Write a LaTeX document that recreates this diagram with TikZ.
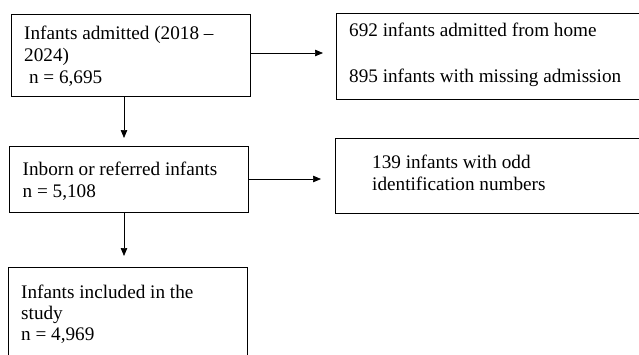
\documentclass[tikz,border=0pt]{standalone}
\usepackage{fontspec}
\setmainfont{Liberation Serif}
\usetikzlibrary{arrows.meta}
\begin{document}
\begin{tikzpicture}[x=1pt,y=-1pt,
  box/.style={draw, line width=1.1pt, inner sep=0pt, anchor=north west},
  lbl/.style={anchor=base west, inner sep=0pt, font=\fontsize{19.2}{22}\selectfont},
  arr/.style={line width=0.7pt, -{Triangle[length=8pt,width=6.5pt]}}]
\useasboundingbox (0,0) rectangle (639,354);
\clip (0,0) rectangle (639,354);
% boxes
\node[box, minimum width=239pt, minimum height=82.5pt] (b1) at (11,13.5) {};
\node[box, minimum width=239pt, minimum height=66pt] (b2) at (9,146) {};
\node[box, minimum width=239pt, minimum height=120pt] (b3) at (8,267) {};
\node[box, minimum width=380pt, minimum height=85.5pt] (r1) at (336,13) {};
\node[box, minimum width=380pt, minimum height=75pt] (r2) at (335,137.5) {};
% texts
\node[lbl] (t1a) at (24,39) {Infants admitted (2018 --};
\node[lbl] (t1b) at (24,61) {2024)};
\node[lbl] (t1c) at (24,83) {\ n = 6,695};
\node[lbl] (t2a) at (22.5,175) {Inborn or referred infants};
\node[lbl] (t2b) at (22.5,197) {n = 5,108};
\node[lbl] (t3a) at (21,298) {Infants included in the};
\node[lbl] (t3b) at (21,319) {study};
\node[lbl] (t3c) at (21,340) {n = 4,969};
\node[lbl] (r1a) at (349,36) {692 infants admitted from home};
\node[lbl] (r1b) at (349,82) {895 infants with missing admission};
\node[lbl] (r2a) at (372,168) {139 infants with odd};
\node[lbl] (r2b) at (372,190) {identification numbers};
% arrow ends
\coordinate (e1) at (323,53);
\coordinate (e2) at (321,179);
\coordinate (e3) at (124,138);
\coordinate (e4) at (124,256);
\draw[arr] (b1.east |- e1) -- (e1);
\draw[arr] (b2.east |- e2) -- (e2);
\draw[arr] (b1.south -| e3) -- (e3);
\draw[arr] (b2.south -| e4) -- (e4);
\end{tikzpicture}
\end{document}
